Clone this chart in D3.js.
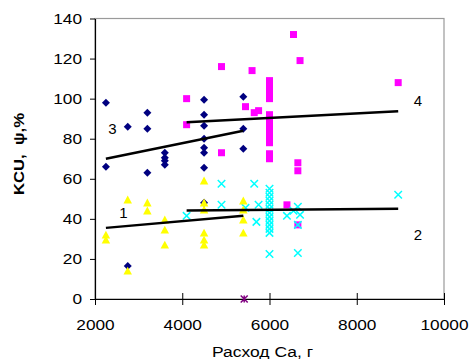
<!DOCTYPE html>
<html><head><meta charset="utf-8">
<script src="https://cdn.jsdelivr.net/npm/d3@7"></script>
<style>
body{margin:0;background:#fff;}
svg{display:block;font-family:Arial,"Liberation Sans",sans-serif;}
</style></head>
<body><svg id="c" width="469" height="359"></svg>
<script>
// ---- data ----
const xTicks = [2000, 4000, 6000, 8000, 10000];
const yTicks = [0, 20, 40, 60, 80, 100, 120, 140];

// series 1 (yellow triangles)
const s1X = [2250,2250,2750,2750,3200,3200,3600,3600,3600,4500,4500,4500,4500,4500,4500,5400,5400,5400,5400];
const s1Y = [32,29.5,49.5,14,48,44,39.5,34.5,27,59,48,44.5,33,29.5,27,49,44.5,39.5,33];

// series 2 (cyan x)
const s2X = [4100,4900,4900,5450,5650,5750,5700,6000,6000,6000,6000,6000,6000,6000,6000,6000,6000,6000,6000,6000,6400,6550,6650,6700,6650,6650,8950];
const s2Y = [41.5,57.5,47,45.5,57.5,47,38.5,55,53,51,49,47,45,43,41,39,37,35,33,22.5,41.5,44,46,42,37,23,52];

// series 3 (navy diamonds)
const s3X = [2250,2250,2750,2750,3200,3200,3200,3600,3600,3600,3600,4500,4500,4500,4500,4500,4500,4500,4500,5400,5400,5400];
const s3Y = [98,66,86,16.5,93,85,63,73,70.5,69,67,99.5,92,86.5,80,75.5,73,65.5,48,101,85,75];

// series 4 (magenta squares)
const s4X = [4100,4100,4900,4900,5450,5600,5650,5750,6000,6000,6000,6000,6000,6000,6000,6000,6000,6000,6000,6000,6400,6550,6700,6650,6650,6650,8950];
const s4Y = [100,87,116,73,96,114,93,94,109,106,103,100,92,89,86,83,80,78,72.5,70,47,132,119,68,64,37,108];

// series 5 (purple asterisk)
const s5X = [5420];
const s5Y = [0];

// trend lines (endpoints)
const t1 = [[2250,35.5],[5400,41.5]];
const t2 = [[4100,44.2],[8950,45.1]];
const t3 = [[2250,70],[5400,84]];
const t4 = [[4100,88.2],[8950,93.7]];
const lineLabels = ["1","2","3","4"];
const labelPos = [[2650,43],[9400,32],[2400,85],[9400,99]];

// ---- chart ----
const svg = d3.select("#c");
const x = d3.scaleLinear().domain([2000,10000]).range([95,444]);
const y = d3.scaleLinear().domain([0,140]).range([299,18.5]);

// plot-area border
svg.append("rect").attr("x",x(2000)).attr("y",y(140))
  .attr("width",x(10000)-x(2000)).attr("height",y(0)-y(140))
  .attr("fill","none").attr("stroke","#9a9a9a").attr("stroke-width",1.2);

// axes
const yAxis = svg.append("g").attr("transform",`translate(${x(2000)},0)`)
  .call(d3.axisLeft(y).tickValues(yTicks).tickFormat(d3.format("d")).tickSize(5).tickSizeOuter(0).tickPadding(8));
const xAxis = svg.append("g").attr("transform",`translate(0,${y(0)})`)
  .call(d3.axisBottom(x).tickValues(xTicks).tickFormat(d3.format("d")).tickSize(6).tickSizeOuter(0).tickPadding(14));
[yAxis,xAxis].forEach(g=>{
  g.select(".domain").attr("stroke","#000").attr("stroke-width",1.2);
  g.selectAll(".tick line").attr("stroke","#000").attr("stroke-width",1);
  g.selectAll(".tick text").attr("font-size",15).attr("fill","#000")
    .attr("font-family",'Arial,"Liberation Sans",sans-serif')
    .attr("lengthAdjust","spacingAndGlyphs")
    .attr("textLength",d=>String(d).length*9.6);
});
xAxis.selectAll(".tick line").attr("y1",-6).attr("y2",6);

// marker shapes
const diamond = {draw(ctx,s){const r=Math.sqrt(s)/2;ctx.moveTo(0,-r);ctx.lineTo(r,0);ctx.lineTo(0,r);ctx.lineTo(-r,0);ctx.closePath();}};
const square = {draw(ctx,s){const r=Math.sqrt(s)/2;ctx.rect(-r,-r,2*r,2*r);}};
const tri = {draw(ctx,s){const r=Math.sqrt(s)/2;ctx.moveTo(0,-r);ctx.lineTo(r,r*0.85);ctx.lineTo(-r,r*0.85);ctx.closePath();}};
const cross = {draw(ctx,s){const r=Math.sqrt(s)/2;ctx.moveTo(-r,-r);ctx.lineTo(r,r);ctx.moveTo(r,-r);ctx.lineTo(-r,r);}};
const aster = {draw(ctx,s){const r=Math.sqrt(s)/2;ctx.moveTo(-r,-r);ctx.lineTo(r,r);ctx.moveTo(r,-r);ctx.lineTo(-r,r);ctx.moveTo(0,-r);ctx.lineTo(0,r);}};

function plot(xs,ys,type,size,fill,stroke,sw){
  svg.append("g").selectAll("path").data(xs.map((v,i)=>[v,ys[i]])).join("path")
    .attr("transform",d=>`translate(${x(d[0])},${y(d[1])})`)
    .attr("d",d3.symbol().type(type).size(size))
    .attr("fill",fill).attr("stroke",stroke).attr("stroke-width",sw);
}
plot(s4X,s4Y,square,49,"#ff00ff","none",0);
plot(s3X,s3Y,diamond,64,"#000080","none",0);
plot(s2X,s2Y,cross,56,"none","#00ffff",1.5);
plot(s1X,s1Y,tri,72,"#ffff00","none",0);
plot(s5X,s5Y,aster,49,"none","#800080",1.5);

// trend lines
const line = d3.line().x(d=>x(d[0])).y(d=>y(d[1]));
[t1,t2,t3,t4].forEach(t=>{
  svg.append("path").attr("d",line(t)).attr("fill","none").attr("stroke","#000").attr("stroke-width",2.5);
});
svg.append("g").selectAll("text").data(lineLabels).join("text")
  .attr("x",(d,i)=>x(labelPos[i][0])).attr("y",(d,i)=>y(labelPos[i][1])+5)
  .attr("text-anchor","middle").attr("font-size",15).text(d=>d);

// titles
svg.append("text").attr("x",262.5).attr("y",356.5).attr("text-anchor","middle")
  .attr("font-size",15.5).attr("textLength",101).attr("lengthAdjust","spacingAndGlyphs")
  .text("Расход Са, г");
svg.append("text").attr("transform","translate(24,154) rotate(-90)")
  .attr("text-anchor","middle").attr("font-size",14).attr("font-weight","bold")
  .style("white-space","pre").attr("textLength",82).attr("lengthAdjust","spacingAndGlyphs")
  .text("KCU,  ψ,%");
</script></body></html>
